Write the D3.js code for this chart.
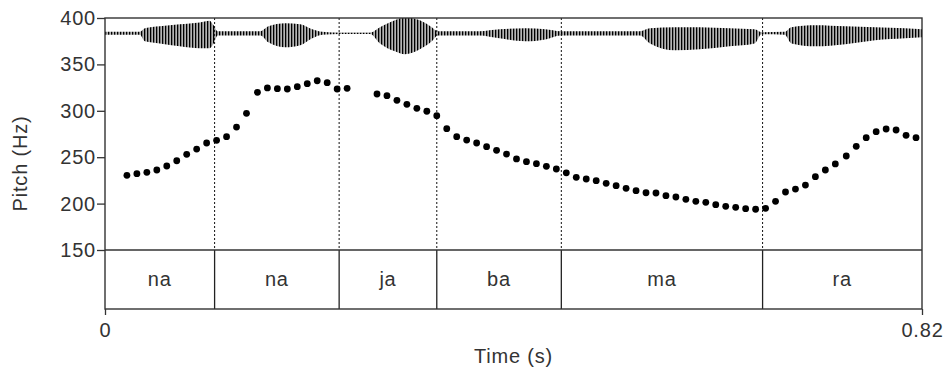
<!DOCTYPE html>
<html>
<head>
<meta charset="utf-8">
<script src="https://cdn.jsdelivr.net/npm/d3@7"></script>
<style>
  body { margin: 0; background: #fff; }
  text { font-family: "Liberation Sans", Arial, sans-serif; fill: #333; }
</style>
</head>
<body>
<div id="chart"></div>
<script>
// pitch track (s, Hz)
var pitchTime = [0.022, 0.032, 0.042, 0.052, 0.062, 0.072, 0.082, 0.092, 0.102, 0.112,
  0.122, 0.132, 0.142, 0.153, 0.163, 0.173, 0.183, 0.193, 0.203, 0.213, 0.223, 0.233, 0.243,
  0.273, 0.283, 0.293, 0.303, 0.313, 0.323, 0.333, 0.343, 0.353, 0.363, 0.373, 0.383, 0.393,
  0.403, 0.413, 0.423, 0.433, 0.443, 0.453, 0.463, 0.473, 0.483, 0.493, 0.503, 0.513, 0.523,
  0.533, 0.543, 0.553, 0.563, 0.573, 0.583, 0.593, 0.603, 0.613, 0.623, 0.633, 0.643, 0.653,
  0.663, 0.673, 0.683, 0.693, 0.703, 0.713, 0.723, 0.733, 0.744, 0.754, 0.764, 0.774, 0.784,
  0.794, 0.804, 0.814];
var pitchHz = [230.5, 232.2, 233.7, 236.2, 240.5, 246.2, 253.1, 258.8, 265.3, 268.2,
  272.1, 282.5, 297.3, 319.9, 324.6, 323.8, 323.5, 326.0, 329.2, 332.4, 330.3, 323.5, 324.2,
  318.1, 316.3, 311.3, 307.0, 302.7, 299.5, 294.7, 280.7, 272.1, 268.5, 265.3, 261.3, 257.4,
  253.4, 248.1, 245.2, 243.0, 240.2, 237.3, 233.2, 228.3, 226.5, 224.7, 221.9, 219.3, 216.5,
  213.9, 211.7, 211.4, 208.5, 207.1, 204.6, 202.5, 201.4, 198.8, 197.1, 196.0, 194.5, 193.9,
  194.9, 202.5, 212.5, 215.7, 220.0, 229.0, 236.2, 242.7, 251.3, 261.7, 271.0, 277.5, 280.4,
  279.3, 273.6, 271.0];

// waveform envelope (s, relative amplitude above / below zero)
var waveTime = [0.000, 0.035, 0.040, 0.055, 0.075, 0.095, 0.105, 0.109, 0.113, 0.156,
  0.164, 0.181, 0.196, 0.208, 0.218, 0.236, 0.266, 0.276, 0.291, 0.301, 0.316, 0.328, 0.334,
  0.376, 0.396, 0.422, 0.442, 0.457, 0.537, 0.547, 0.572, 0.597, 0.627, 0.652, 0.659, 0.682,
  0.689, 0.713, 0.743, 0.773, 0.803, 0.820];
var waveHigh = [0.07, 0.07, 0.24, 0.33, 0.43, 0.52, 0.60, 0.38, 0.10, 0.10,
  0.33, 0.48, 0.43, 0.19, 0.07, 0.03, 0.03, 0.29, 0.62, 0.76, 0.62, 0.29, 0.10,
  0.10, 0.19, 0.24, 0.19, 0.10, 0.10, 0.24, 0.29, 0.29, 0.24, 0.19, 0.05, 0.07,
  0.29, 0.38, 0.33, 0.29, 0.24, 0.19];
var waveLow = [-0.07, -0.07, -0.38, -0.48, -0.62, -0.71, -0.71, -0.48, -0.10, -0.10,
  -0.43, -0.67, -0.57, -0.24, -0.07, -0.03, -0.03, -0.48, -0.86, -1.00, -0.76, -0.38, -0.10,
  -0.10, -0.24, -0.38, -0.29, -0.10, -0.10, -0.48, -0.81, -0.76, -0.62, -0.48, -0.05, -0.07,
  -0.48, -0.62, -0.52, -0.33, -0.24, -0.19];

// syllable tier
var syllables = ["na", "na", "ja", "ba", "ma", "ra"];
var boundaries = [0, 0.110, 0.235, 0.333, 0.458, 0.660, 0.82];

var pitchTicks = [150, 200, 250, 300, 350, 400];

var margin = {top: 18, right: 26, bottom: 65, left: 105};
var width = 948 - margin.left - margin.right;
var pitchHeight = 232;
var tierHeight = 59;

var svg = d3.select("#chart")
  .append("svg")
  .attr("width", 948)
  .attr("height", 374)
  .append("g")
  .attr("transform", "translate(" + margin.left + "," + margin.top + ")");

var x = d3.scaleLinear().domain([0, 0.82]).range([0, width]);
var y = d3.scaleLinear().domain([150, 400]).range([pitchHeight, 0]);
var yWave = d3.scaleLinear().domain([-1, 1]).range([15.3 + 21, 15.3 - 21]);

var defs = svg.append("defs");
defs.append("clipPath").attr("id", "clip")
  .append("rect").attr("width", width).attr("height", pitchHeight);
var pat = defs.append("pattern")
  .attr("id", "hatch")
  .attr("patternUnits", "userSpaceOnUse")
  .attr("width", 3).attr("height", 10);
pat.append("rect").attr("width", 3).attr("height", 10).attr("fill", "#b5b5b5");
pat.append("rect").attr("width", 1.3).attr("height", 10).attr("fill", "#000");

// waveform
var waveData = waveTime.map(function(t, i) { return {t: t, hi: waveHigh[i], lo: waveLow[i]}; });
var wave = svg.append("g").attr("clip-path", "url(#clip)");
wave.append("line")
  .attr("x1", 0).attr("x2", width)
  .attr("y1", yWave(0)).attr("y2", yWave(0))
  .attr("stroke", "#777")
  .attr("stroke-width", 1);
wave.append("path")
  .datum(waveData)
  .attr("fill", "url(#hatch)")
  .attr("d", d3.area()
    .x(function(d) { return x(d.t); })
    .y0(function(d) { return yWave(d.lo); })
    .y1(function(d) { return yWave(d.hi); })
    .curve(d3.curveMonotoneX));

// dotted boundaries in pitch area
svg.selectAll(".bound")
  .data(boundaries.slice(1, -1))
  .enter()
  .append("line")
  .attr("class", "bound")
  .attr("x1", function(d) { return x(d); })
  .attr("x2", function(d) { return x(d); })
  .attr("y1", 0)
  .attr("y2", pitchHeight)
  .attr("stroke", "#111")
  .attr("stroke-width", 1)
  .attr("stroke-dasharray", "2,2");

// pitch points
var pitchData = pitchTime.map(function(t, i) { return {t: t, hz: pitchHz[i]}; });
svg.selectAll(".dot")
  .data(pitchData)
  .enter()
  .append("circle")
  .attr("class", "dot")
  .attr("cx", function(d) { return x(d.t); })
  .attr("cy", function(d) { return y(d.hz); })
  .attr("r", 3.4)
  .attr("fill", "#000");

// tier
var tier = svg.append("g").attr("transform", "translate(0," + pitchHeight + ")");
tier.selectAll(".tb")
  .data(boundaries.slice(1, -1))
  .enter()
  .append("line")
  .attr("class", "tb")
  .attr("x1", function(d) { return x(d); })
  .attr("x2", function(d) { return x(d); })
  .attr("y1", 0)
  .attr("y2", tierHeight)
  .attr("stroke", "#222")
  .attr("stroke-width", 1.3);
tier.selectAll(".syl")
  .data(syllables)
  .enter()
  .append("text")
  .attr("class", "syl")
  .attr("x", function(d, i) { return (x(boundaries[i]) + x(boundaries[i + 1])) / 2; })
  .attr("y", 36)
  .attr("text-anchor", "middle")
  .style("font-size", "20px")
  .style("letter-spacing", "0.8px")
  .text(function(d) { return d; });

// frame
svg.append("rect")
  .attr("width", width)
  .attr("height", pitchHeight + tierHeight)
  .attr("fill", "none")
  .attr("stroke", "#333")
  .attr("stroke-width", 1.4);
svg.append("line")
  .attr("x1", 0).attr("x2", width)
  .attr("y1", pitchHeight).attr("y2", pitchHeight)
  .attr("stroke", "#333")
  .attr("stroke-width", 1.4);

// y axis
var yAxis = svg.append("g")
  .call(d3.axisLeft(y).tickValues(pitchTicks).tickSize(8).tickPadding(1).tickFormat(d3.format("d")));
yAxis.select(".domain").remove();
yAxis.selectAll("line").attr("stroke", "#333").attr("stroke-width", 1.3);
yAxis.selectAll("text")
  .style("font-size", "20px")
  .style("letter-spacing", "0.8px")
  .attr("fill", "#333");

// x axis
var xAxis = svg.append("g")
  .attr("transform", "translate(0," + (pitchHeight + tierHeight) + ")")
  .call(d3.axisBottom(x).tickValues([0, 0.82]).tickSize(6).tickPadding(8).tickFormat(function(d) { return d === 0 ? "0" : "0.82"; }));
xAxis.select(".domain").remove();
xAxis.selectAll("line").attr("stroke", "#333").attr("stroke-width", 1.3);
xAxis.selectAll("text")
  .style("font-size", "20px")
  .style("letter-spacing", "0.8px")
  .attr("fill", "#333");

svg.append("text")
  .attr("x", width / 2)
  .attr("y", 345)
  .attr("text-anchor", "middle")
  .style("font-size", "20px")
  .style("letter-spacing", "0.8px")
  .text("Time (s)");

svg.append("text")
  .attr("transform", "translate(" + (-78) + "," + ((pitchHeight + tierHeight) / 2) + ") rotate(-90)")
  .attr("text-anchor", "middle")
  .style("font-size", "20px")
  .style("letter-spacing", "0.8px")
  .text("Pitch (Hz)");
</script>
</body>
</html>
